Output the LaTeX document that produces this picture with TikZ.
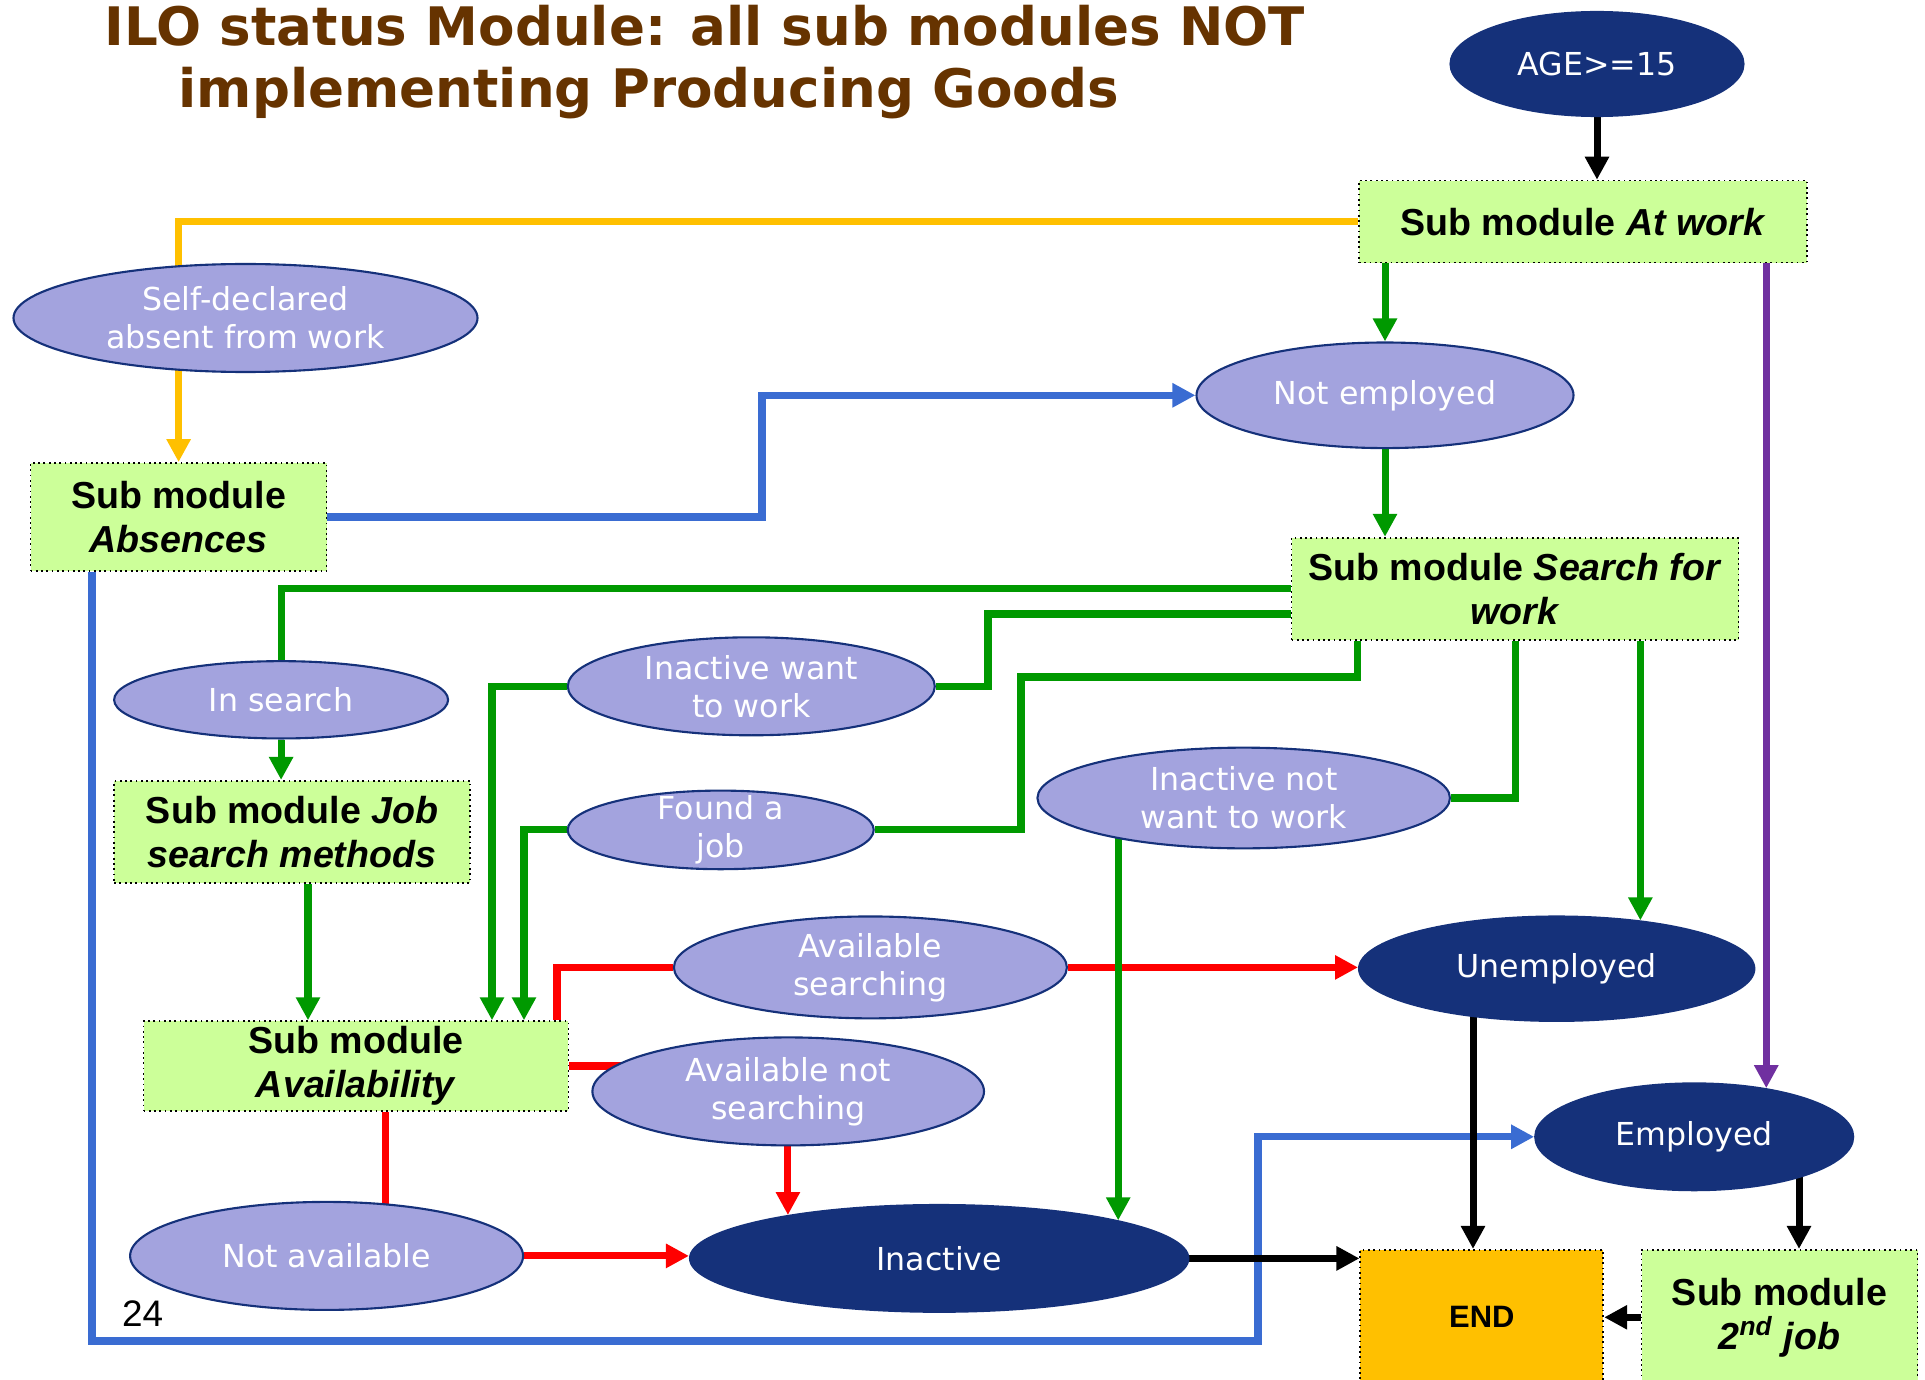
\documentclass[tikz,border=0pt]{standalone}
\usepackage{fontspec}
\usepackage{tikz}
\newfontfamily\ellfont{DejaVu Sans}
\newfontfamily\boxfont{Liberation Sans}
\definecolor{navy}{RGB}{21,49,122}
\definecolor{lilac}{RGB}{163,163,222}
\definecolor{boxgreen}{RGB}{204,255,153}
\definecolor{gold}{RGB}{255,192,0}
\definecolor{grn}{RGB}{0,153,0}
\definecolor{lineblue}{RGB}{58,108,210}
\definecolor{purp}{RGB}{112,48,160}
\definecolor{titlebrown}{RGB}{102,51,0}
\usetikzlibrary{shapes,backgrounds,arrows.meta}
\tikzstyle{submod}=[draw=black, densely dotted, line width=0.5pt, fill=boxgreen,
  inner sep=0pt, align=center, font={\boxfont\bfseries\fontsize{10.7}{12.5}\selectfont}]
\tikzstyle{ell}=[ellipse, draw=navy, line width=0.6pt, fill=lilac, text=white,
  align=center, inner xsep=-1cm, inner ysep=-1cm,
  font={\ellfont\fontsize{9}{10.8}\selectfont}]
\tikzstyle{darkell}=[ell, fill=navy]
\tikzstyle{conn}=[line width=2pt]
\tikzstyle{title}=[inner sep=0pt, anchor=base west, text=titlebrown,
  font={\ellfont\bfseries\fontsize{15.1}{18}\selectfont}]

\begin{document}
\begin{tikzpicture}[>={Triangle[length=2.3mm,width=2.3mm]}]
  \useasboundingbox (0,0) rectangle (19.25,-13.8);

  \node[title] (title1) at (1.04,-0.454) {ILO status Module: all sub modules NOT};
  \node[title] (title2) at (1.78,-1.08) {implementing Producing Goods};

  \node[darkell, minimum width=2.93cm, minimum height=1.04cm] (age) at (15.97,-0.64) {AGE>=15};
  \node[submod, minimum width=4.48cm, minimum height=0.82cm] (atwork) at (15.83,-2.216) {Sub module \textit{At work}};
  \node[ell, minimum width=4.64cm, minimum height=1.08cm] (selfdecl) at (2.455,-3.18) {Self-declared\\absent from work};
  \node[ell, minimum width=3.77cm, minimum height=1.056cm] (notemp) at (13.85,-3.953) {Not employed};
  \node[submod, minimum width=2.96cm, minimum height=1.08cm] (absences) at (1.786,-5.17) {Sub module\\\textit{Absences}};
  \node[submod, minimum width=4.47cm, minimum height=1.02cm] (search) at (15.15,-5.887) {Sub module \textit{Search for}\\\textit{work}};
  \node[ell, minimum width=3.34cm, minimum height=0.773cm] (insearch) at (2.811,-6.998) {In search};
  \node[ell, minimum width=3.67cm, minimum height=0.98cm] (iwant) at (7.513,-6.863) {Inactive want\\to work};
  \node[submod, minimum width=3.56cm, minimum height=1.02cm] (jobsearch) at (2.922,-8.318) {Sub module \textit{Job}\\\textit{search methods}};
  \node[ell, minimum width=3.06cm, minimum height=0.786cm] (found) at (7.207,-8.299) {Found a\\job};
  \node[ell, minimum width=4.125cm, minimum height=1.007cm] (inotwant) at (12.437,-7.98) {Inactive not\\want to work};
  \node[ell, minimum width=3.93cm, minimum height=1.019cm] (avsearch) at (8.704,-9.674) {Available\\searching};
  \node[darkell, minimum width=3.953cm, minimum height=1.044cm] (unemp) at (15.567,-9.687) {Unemployed};
  \node[submod, minimum width=4.248cm, minimum height=0.897cm] (avail) at (3.56,-10.66) {Sub module\\\textit{Availability}};
  \node[ell, minimum width=3.916cm, minimum height=1.08cm] (avnot) at (7.882,-10.914) {Available not\\searching};
  \node[darkell, minimum width=3.18cm, minimum height=1.068cm] (employed) at (16.942,-11.368) {Employed};
  \node[ell, minimum width=3.93cm, minimum height=1.08cm] (notavail) at (3.266,-12.559) {Not available};
  \node[darkell, minimum width=4.984cm, minimum height=1.068cm] (inactive) at (9.392,-12.584) {Inactive};
  \node[submod, fill=gold, font={\boxfont\bfseries\fontsize{8.8}{10}\selectfont},
    minimum width=2.43cm, minimum height=1.35cm] (endbox) at (14.818,-13.173) {END};
  \node[submod, minimum width=2.76cm, minimum height=1.35cm] (second) at (17.795,-13.173) {Sub module\\\textit{2\textsuperscript{nd} job}};
  \node[inner sep=0pt, anchor=base west, font={\boxfont\fontsize{10.5}{12}\selectfont}] (pagenum) at (1.215,-13.26) {24};

  % bends of the connectors
  \coordinate (b1) at (7.62,-3.953);
  \coordinate (b2) at (0.92,-13.41);
  \coordinate (b3) at (12.58,-13.41);
  \coordinate (g1) at (9.88,-6.14);
  \coordinate (g2) at (4.92,0);
  \coordinate (g3) at (13.57,-6.77);
  \coordinate (g4) at (10.21,-6.77);
  \coordinate (g5) at (5.24,0);
  \coordinate (g6) at (3.08,0);
  \coordinate (r1) at (5.57,0);
  \coordinate (r2) at (3.855,0);
  \coordinate (k1) at (14.73,0);
  \coordinate (k2) at (17.99,0);

  \begin{scope}[on background layer]
  \begin{scope}[conn]
    \draw[->] (age.south) -- (age.south |- atwork.north);
    \draw[->, gold] (atwork.west) -| (absences.north);
    \draw[->, grn] (notemp.north |- atwork.south) -- (notemp.north);
    \draw[->, purp] (atwork.south -| employed.34) -- (employed.34);
    \draw[->, grn] (notemp.south) -- (notemp.south |- search.north);
    \draw[->, lineblue] (absences.east) -| (b1) -- (notemp.west);
    \draw[->, lineblue] (absences.south -| b2) -- (b2) -- (b3) |- (employed.west);
    % search for work
    \draw[grn] (search.west) -| (insearch.north);
    \draw[grn] (search.west |- g1) -- (g1) |- (iwant.east);
    \draw[->, grn] (iwant.west) -| (avail.north -| g2);
    \draw[grn] (search.south -| g3) -- (g3) -- (g4) |- (found.east);
    \draw[->, grn] (found.west) -| (avail.north -| g5);
    \draw[grn] (search.south) |- (inotwant.east);
    \draw[->, grn] (search.south -| unemp.30) -- (unemp.30);
    \draw[->, grn] (insearch.south) -- (insearch.south |- jobsearch.north);
    \draw[->, grn] (jobsearch.south -| g6) -- (avail.north -| g6);
    % availability
    \draw[red] (avail.north -| r1) |- (avsearch.west);
    \draw[->, red] (avsearch.east) -- (avsearch.east -| unemp.west);
    \draw[->, grn] (inactive.12 |- inotwant.center) -- (inactive.12);
    \draw[red] (avail.east) -- (avail.east -| avnot.center);
    \draw[->, red] (inactive.164 |- avnot.center) -- (inactive.164);
    \draw[red] (avail.south -| r2) -- (notavail.center -| r2);
    \draw[->, red] (notavail.east) -- (notavail.east -| inactive.west);
    % to the end
    \draw[->] (inactive.east) -- (inactive.east -| endbox.west);
    \draw[->] (unemp.center -| k1) -- (endbox.north -| k1);
    \draw[->] (employed.center -| k2) -- (second.north -| k2);
    \draw[->] (second.west) -- (endbox.east);
  \end{scope}
  \end{scope}
\end{tikzpicture}
\end{document}
